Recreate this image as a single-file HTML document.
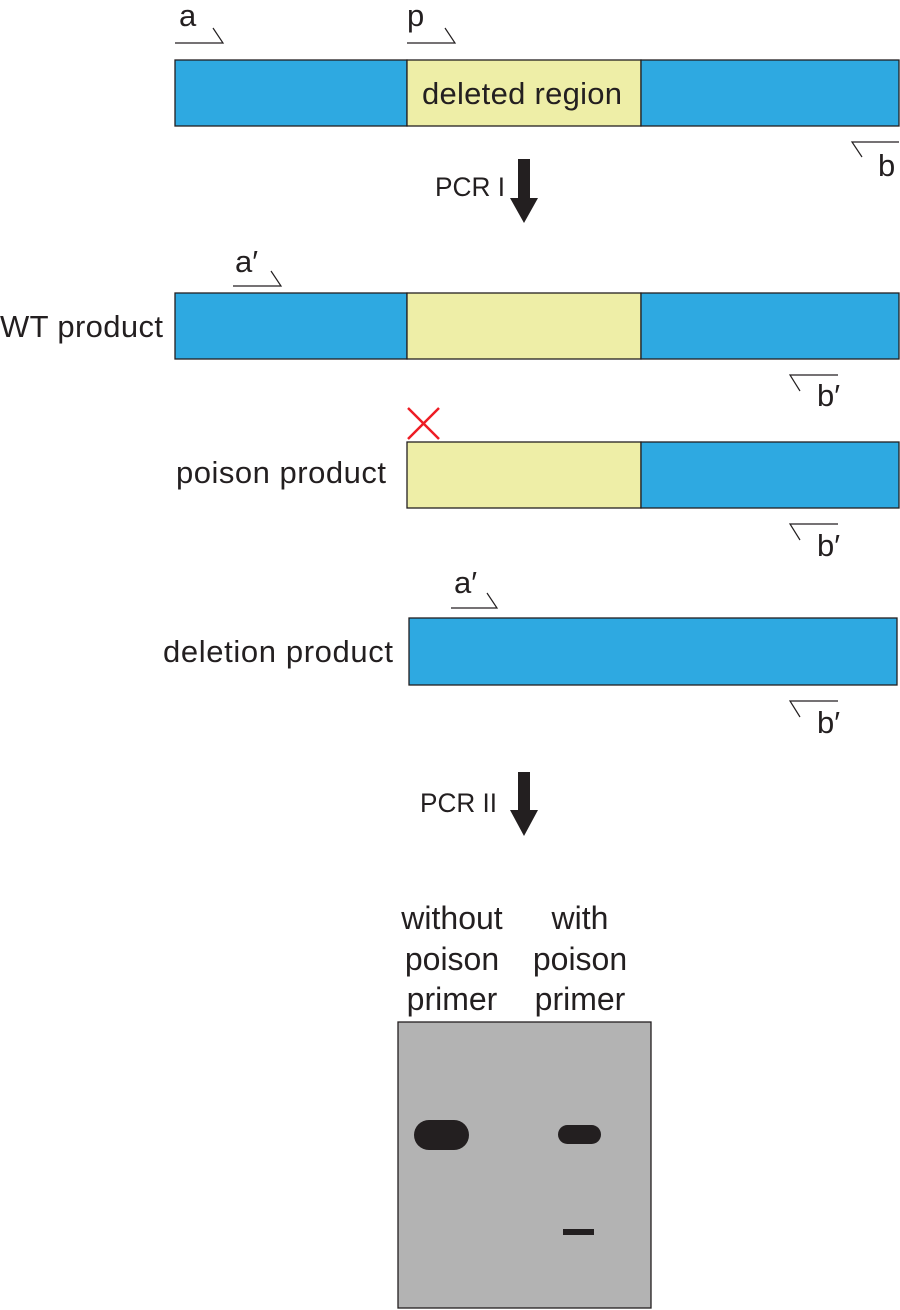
<!DOCTYPE html>
<html><head><style>html,body{margin:0;padding:0;background:#fff}svg{display:block}text{font-family:"Liberation Sans",sans-serif;fill:#231f20}</style></head>
<body>
<svg width="900" height="1310" viewBox="0 0 900 1310" xmlns="http://www.w3.org/2000/svg">
<g stroke="#231f20" stroke-width="1.3">
<rect x="175" y="60" width="232" height="66" fill="#2ea9e1"/>
<rect x="407" y="60" width="234" height="66" fill="#eeeea7"/>
<rect x="641" y="60" width="258" height="66" fill="#2ea9e1"/>
<rect x="175" y="293" width="232" height="66" fill="#2ea9e1"/>
<rect x="407" y="293" width="234" height="66" fill="#eeeea7"/>
<rect x="641" y="293" width="258" height="66" fill="#2ea9e1"/>
<rect x="407" y="442" width="234" height="66" fill="#eeeea7"/>
<rect x="641" y="442" width="258" height="66" fill="#2ea9e1"/>
<rect x="409" y="618" width="488" height="67" fill="#2ea9e1"/>
<rect x="398" y="1022" width="253" height="286" fill="#b3b3b3"/>
</g>
<g stroke="#231f20" stroke-width="1.2" fill="none">
<polyline points="175,43 223,43 213,28"/>
<polyline points="407,43 455,43 445,28"/>
<polyline points="899,142 852,142 862,157"/>
<polyline points="233,286 281,286 271,271"/>
<polyline points="838,375 790,375 800,391"/>
<polyline points="838,524 790,524 800,540"/>
<polyline points="451,608 497,608 487,593"/>
<polyline points="838,701 790,701 800,717"/>
</g>
<g stroke="#ed1c24" stroke-width="2.5"><line x1="408" y1="408" x2="439" y2="439"/><line x1="439" y1="408" x2="408" y2="439"/></g>
<g fill="#231f20">
<polygon points="518,159 530,159 530,198 538,198 524,223 510,198 518,198"/>
<polygon points="518,772 530,772 530,810 538,810 524,836 510,810 518,810"/>
<rect x="414" y="1120" width="55" height="30" rx="15"/>
<rect x="558" y="1125" width="43" height="19" rx="9.5"/>
<rect x="563" y="1229" width="31" height="6"/>
</g>
<g font-size="31">
<text x="179" y="26">a</text>
<text x="407" y="26">p</text>
<text x="522" y="104" text-anchor="middle" textLength="200">deleted region</text>
<text x="878" y="176">b</text>
<text x="435" y="196" font-size="27" textLength="70" lengthAdjust="spacingAndGlyphs">PCR I</text>
<text x="235" y="272">a′</text>
<text x="163" y="337" text-anchor="end" textLength="163">WT product</text>
<text x="817" y="406">b′</text>
<text x="386" y="483" text-anchor="end" textLength="210">poison product</text>
<text x="817" y="556">b′</text>
<text x="454" y="593">a′</text>
<text x="393" y="662" text-anchor="end" textLength="230">deletion product</text>
<text x="817" y="733">b′</text>
<text x="420" y="812" font-size="27" textLength="77" lengthAdjust="spacingAndGlyphs">PCR II</text>
<text x="452" y="929" text-anchor="middle" font-size="32">without</text>
<text x="452" y="970" text-anchor="middle" font-size="32">poison</text>
<text x="452" y="1010" text-anchor="middle" font-size="32">primer</text>
<text x="580" y="929" text-anchor="middle" font-size="32">with</text>
<text x="580" y="970" text-anchor="middle" font-size="32">poison</text>
<text x="580" y="1010" text-anchor="middle" font-size="32">primer</text>
</g>
</svg>
</body></html>
